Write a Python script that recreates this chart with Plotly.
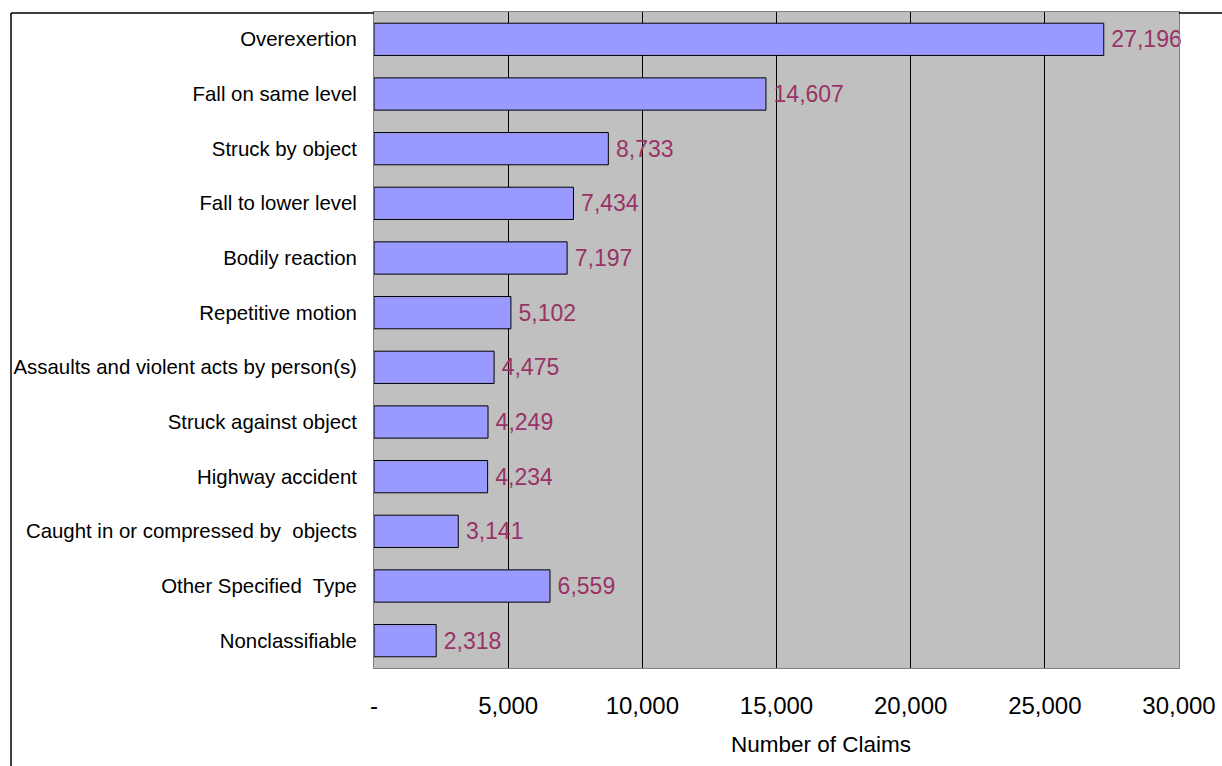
import plotly.graph_objects as go

categories = [
    "Overexertion",
    "Fall on same level",
    "Struck by object",
    "Fall to lower level",
    "Bodily reaction",
    "Repetitive motion",
    "Assaults and violent acts by person(s)",
    "Struck against object",
    "Highway accident",
    "Caught in or compressed by  objects",
    "Other Specified  Type",
    "Nonclassifiable",
]
claims = [27196, 14607, 8733, 7434, 7197, 5102, 4475, 4249, 4234, 3141, 6559, 2318]
tick_values = [0, 5000, 10000, 15000, 20000, 25000, 30000]
tick_labels = ["-", "5,000", "10,000", "15,000", "20,000", "25,000", "30,000"]
x_title = "Number of Claims"

FONT = "Liberation Sans, Arial, sans-serif"

fig = go.Figure(
    go.Bar(
        x=claims,
        y=categories,
        orientation="h",
        marker=dict(color="#9999FF", line=dict(color="black", width=1)),
        text=[f"\u2009{v:,}" for v in claims],
        textposition="outside",
        textfont=dict(family=FONT, size=23, color="#993366"),
        cliponaxis=False,
        hoverinfo="skip",
    )
)

L, R, T, B = 374, 43, 12, 98
W, H = 1222, 766
pw, ph = W - L - R, H - T - B

def px(x):
    return (x - L) / pw

def py(y):
    return (H - B - y) / ph

fig.update_layout(
    width=W,
    height=H,
    margin=dict(l=L, r=R, t=T, b=B, pad=0, autoexpand=False),
    paper_bgcolor="white",
    plot_bgcolor="#C0C0C0",
    bargap=0.41,
    showlegend=False,
    font=dict(family=FONT, color="black"),
    xaxis=dict(
        range=[0, 30000],
        tickvals=tick_values,
        ticktext=tick_labels,
        tickfont=dict(size=24, color="black"),
        showgrid=True,
        gridcolor="black",
        gridwidth=1,
        zeroline=False,
        showline=True,
        linecolor="#808080",
        linewidth=1,
        mirror=True,
        ticks="",
        ticklabelstandoff=16,
        automargin=False,
    ),
    yaxis=dict(
        autorange="reversed",
        tickfont=dict(size=20.4, color="black"),
        showline=True,
        linecolor="#808080",
        linewidth=1,
        mirror=True,
        ticks="",
        ticklabelstandoff=12,
        automargin=False,
        showgrid=False,
    ),
    annotations=[
        dict(text=x_title, xref="paper", yref="paper", x=px(821), y=py(744),
             xanchor="center", yanchor="middle", showarrow=False,
             font=dict(family=FONT, size=22.5, color="black")),
    ],
    shapes=[
        dict(type="line", xref="paper", yref="paper", x0=px(11), x1=px(11), y0=py(13), y1=py(800),
             line=dict(color="black", width=1.5)),
        dict(type="line", xref="paper", yref="paper", x0=px(11), x1=0, y0=py(13), y1=py(13),
             line=dict(color="black", width=1.5)),
        dict(type="line", xref="paper", yref="paper", x0=1, x1=px(1240), y0=py(13), y1=py(13),
             line=dict(color="black", width=1.5)),
    ],
)

fig.write_html(
    "out.html",
    config={"displayModeBar": False},
    post_script="document.body.style.margin='0';",
)
